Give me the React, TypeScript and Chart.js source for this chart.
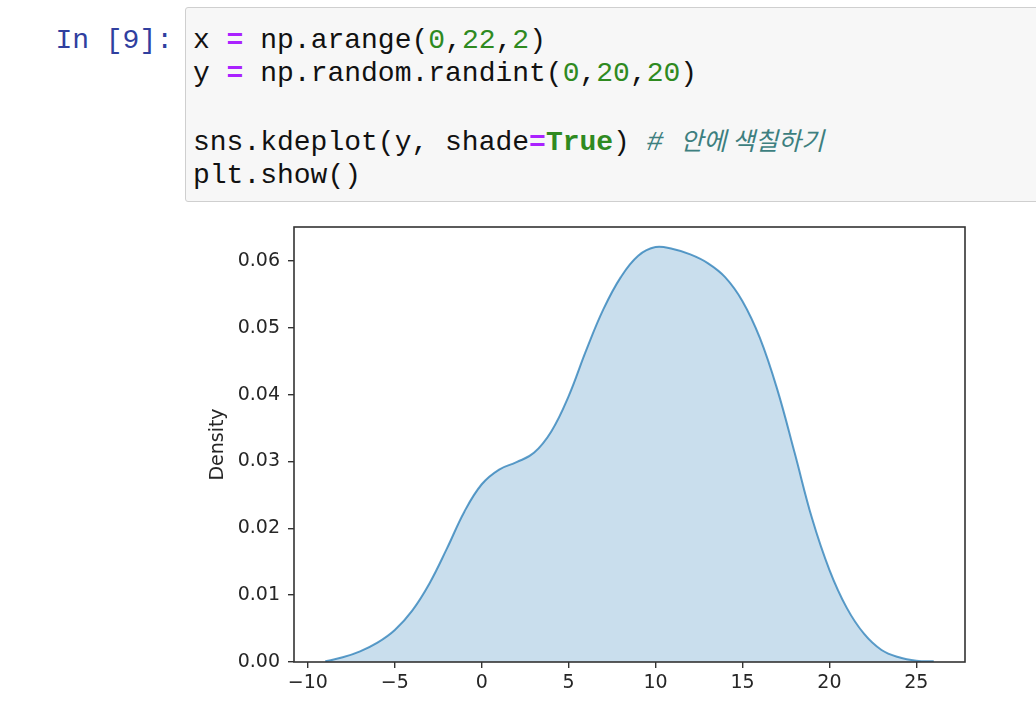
import React, { useEffect, useRef } from "react";
import { Chart, registerables } from "chart.js";

Chart.register(...registerables);

// KDE curve (x value, density)
const kdeX = [-9, -8, -7, -6, -5, -4, -3, -2, -1, 0, 1, 2, 3, 4, 5, 6, 7, 8, 9, 10, 11, 12, 13, 14, 15, 16, 17, 18, 19, 20, 21, 22, 23, 24, 25, 26];
const kdeDensity = [
  0.0001, 0.0007, 0.0016, 0.0029, 0.0048, 0.0077, 0.0118, 0.017, 0.0225, 0.0266,
  0.0288, 0.0299, 0.0313, 0.0345, 0.0398, 0.0466, 0.0528, 0.0576, 0.0608, 0.0621,
  0.0618, 0.061, 0.0597, 0.0576, 0.054, 0.0485, 0.0408, 0.0313, 0.0215, 0.0138,
  0.0081, 0.0042, 0.0018, 0.0007, 0.0002, 0.0001,
];
const xTickValues = [-10, -5, 0, 5, 10, 15, 20, 25];
const yTickValues = [0, 0.01, 0.02, 0.03, 0.04, 0.05, 0.06];
const xLimits = [-10.8, 27.8];
const yLimits = [0, 0.0651];

const codeFont = '"Liberation Mono", "DejaVu Sans Mono", monospace';
const tickFont = { family: '"DejaVu Sans", sans-serif', size: 19 };

const frame = {
  id: "frame",
  afterDraw(chart: any) {
    const { ctx, chartArea } = chart;
    ctx.save();
    ctx.strokeStyle = "#333333";
    ctx.lineWidth = 1.6;
    ctx.strokeRect(chartArea.left, chartArea.top, chartArea.right - chartArea.left, chartArea.bottom - chartArea.top);
    ctx.restore();
  },
};

function KdeChart() {
  const ref = useRef<HTMLCanvasElement | null>(null);
  useEffect(() => {
    if (!ref.current) return;
    const chart = new Chart(ref.current, {
      type: "line",
      data: {
        datasets: [
          {
            data: kdeX.map((x, i) => ({ x, y: kdeDensity[i] })),
            borderColor: "rgba(31,119,180,0.72)",
            backgroundColor: "rgba(31,119,180,0.24)",
            borderWidth: 2,
            fill: "origin",
            pointRadius: 0,
            tension: 0.4,
          },
        ],
      },
      options: {
        animation: false,
        responsive: false,
        devicePixelRatio: 1,
        layout: { padding: { left: 0, top: 12, right: 25, bottom: 0 } },
        plugins: { legend: { display: false }, tooltip: { enabled: false } },
        scales: {
          x: {
            type: "linear",
            min: xLimits[0],
            max: xLimits[1],
            afterFit: (s: any) => {
              s.height = 46;
              s.paddingLeft = 0;
              s.paddingRight = 0;
            },
            afterBuildTicks: (s: any) => {
              s.ticks = xTickValues.map((v) => ({ value: v }));
            },
            border: { display: false },
            grid: { drawOnChartArea: false, drawTicks: true, tickLength: 6, color: "#333333", lineWidth: 1.4 },
            ticks: {
              font: tickFont,
              color: "#262626",
              padding: 4,
              maxRotation: 0,
              autoSkip: false,
              callback: (v: any) => String(v).replace("-", "\u2212"),
            },
          },
          y: {
            type: "linear",
            min: yLimits[0],
            max: yLimits[1],
            afterFit: (s: any) => {
              s.width = 104;
              s.paddingTop = 0;
              s.paddingBottom = 0;
            },
            afterBuildTicks: (s: any) => {
              s.ticks = yTickValues.map((v) => ({ value: v }));
            },
            border: { display: false },
            grid: { drawOnChartArea: false, drawTicks: true, tickLength: 6, color: "#333333", lineWidth: 1.4 },
            title: {
              display: true,
              text: "Density",
              font: tickFont,
              color: "#262626",
              padding: { top: 17, bottom: 0 },
            },
            ticks: {
              font: tickFont,
              color: "#262626",
              padding: 8,
              autoSkip: false,
              callback: (v: any) => Number(v).toFixed(2),
            },
          },
        },
      },
      plugins: [frame],
    } as any);
    return () => chart.destroy();
  }, []);
  return (
    <canvas
      ref={ref}
      width={800}
      height={493}
      style={{ position: "absolute", left: 190, top: 215, width: 800, height: 493 }}
    />
  );
}

const eq = { color: "#AA22FF", fontWeight: 700 } as const;
const num = { color: "#2f8a1f" } as const;

export default function App() {
  return (
    <div
      style={{
        position: "fixed",
        left: 0,
        top: 0,
        width: 1036,
        height: 708,
        background: "#ffffff",
        overflow: "hidden",
      }}
    >
      <div
        style={{
          position: "absolute",
          left: 0,
          width: 173,
          top: 24,
          textAlign: "right",
          fontFamily: codeFont,
          fontSize: 28,
          lineHeight: "33px",
          color: "#303F9F",
          whiteSpace: "pre",
        }}
      >
        In [9]:
      </div>
      <div
        style={{
          position: "absolute",
          left: 185,
          top: 7,
          width: 900,
          height: 193,
          background: "#f7f7f7",
          border: "1px solid #cfcfcf",
          borderRadius: 3,
        }}
      />
      <div
        style={{
          position: "absolute",
          left: 193,
          top: 24,
          fontFamily: codeFont,
          fontSize: 28,
          lineHeight: "33px",
          color: "#111111",
          whiteSpace: "pre",
        }}
      >
        <div>
          x <span style={eq}>=</span> np.arange(<span style={num}>0</span>,<span style={num}>22</span>,
          <span style={num}>2</span>)
        </div>
        <div>
          y <span style={eq}>=</span> np.random.randint(<span style={num}>0</span>,<span style={num}>20</span>,
          <span style={num}>20</span>)
        </div>
        <div>{" "}</div>
        <div>
          sns.kdeplot(y, shade<span style={eq}>=</span>
          <span style={{ color: "#2f8a1f", fontWeight: 700 }}>True</span>){" "}
          <span style={{ color: "#3d7f7f", fontStyle: "italic" }}>
            #{" "}
            <span style={{ fontFamily: '"Noto Sans CJK KR", sans-serif', fontSize: 25 }}>안에 색칠하기</span>
          </span>
        </div>
        <div>plt.show()</div>
      </div>
      <KdeChart />
    </div>
  );
}
